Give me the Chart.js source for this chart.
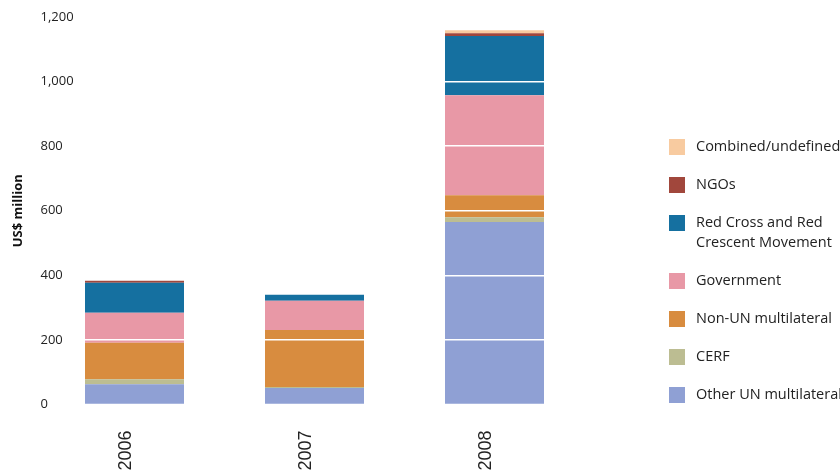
<!DOCTYPE html>
<html>
<head>
<meta charset="utf-8">
<script src="https://cdn.jsdelivr.net/npm/chart.js@4"></script>
<style>
  html, body { margin: 0; padding: 0; background: #fff; }
</style>
</head>
<body>
<canvas id="myChart" width="840" height="470"></canvas>
<script>
// data for chart
const years = ['2006', '2007', '2008'];
const seriesNames = [
    'Other UN multilateral',
    'CERF',
    'Non-UN multilateral',
    'Government',
    'Red Cross and Red\nCrescent Movement',
    'NGOs',
    'Combined/undefined'
];
const otherUN = [63, 51, 565];
const cerf = [15, 3, 15];
const nonUN = [113, 177, 68];
const government = [93, 90, 310];
const redCross = [93, 19, 183];
const ngos = [6, 0, 9];
const combined = [0, 0, 9];
const yTicks = [0, 200, 400, 600, 800, 1000, 1200];

const seriesValues = [otherUN, cerf, nonUN, government, redCross, ngos, combined];
const seriesColors = ['#8fa0d4', '#bcbd92', '#d88c3f', '#e898a6', '#1570a0', '#a1473c', '#f8cba0'];

// legend on the right, top of the stack first
const sideLegend = {
    id: 'sideLegend',
    afterDraw(chart) {
        const ctx = chart.ctx;
        let y = 147;
        ctx.save();
        ctx.font = '14.5px "Open Sans"';
        ctx.textBaseline = 'middle';
        for (let i = chart.data.datasets.length - 1; i >= 0; i--) {
            const ds = chart.data.datasets[i];
            const lines = ds.label.split('\n');
            ctx.fillStyle = ds.backgroundColor;
            ctx.fillRect(669, y - 8, 16, 16);
            ctx.fillStyle = '#222';
            lines.forEach(function(t, k) {
                ctx.fillText(t, 696, y + k * 20);
            });
            y += 38 + (lines.length - 1) * 20;
        }
        ctx.restore();
    }
};

const data = {
    labels: years,
    datasets: seriesValues.map(function(vals, i) {
        return {
            label: seriesNames[i],
            data: vals,
            backgroundColor: seriesColors[i],
            borderWidth: 0
        };
    })
};

const config = {
    type: 'bar',
    data: data,
    options: {
        responsive: false,
        animation: false,
        categoryPercentage: 1,
        barPercentage: 0.55,
        layout: {
            padding: { top: 17, right: 255.5, left: 0, bottom: 0 }
        },
        plugins: {
            legend: { display: false },
            tooltip: { enabled: false }
        },
        scales: {
            x: {
                stacked: true,
                afterFit: function(scale) { scale.height = 65.5; },
                grid: { display: false },
                border: { display: false },
                ticks: {
                    minRotation: 90,
                    maxRotation: 90,
                    padding: 18,
                    labelOffset: -8,
                    color: '#222',
                    font: { family: '"Liberation Sans"', size: 18 }
                }
            },
            y: {
                stacked: true,
                min: 0,
                max: 1200,
                afterFit: function(scale) { scale.width = 44.5; },
                afterBuildTicks: function(scale) {
                    scale.ticks = yTicks.map(function(v) { return { value: v }; });
                },
                grid: {
                    color: '#ffffff',
                    lineWidth: 1.5,
                    drawTicks: false,
                    z: 1
                },
                border: { display: false },
                title: {
                    display: true,
                    text: 'US$ million',
                    color: '#111',
                    padding: { top: 10, bottom: 0 },
                    font: { family: '"Open Sans"', size: 13, weight: 'bold' }
                },
                ticks: {
                    mirror: true,
                    padding: -4,
                    z: 2,
                    color: '#222',
                    font: { family: '"Open Sans"', size: 13 },
                    callback: function(v) { return v.toLocaleString('en-US'); }
                }
            }
        }
    },
    plugins: [sideLegend]
};

const myChart = new Chart(
    document.getElementById('myChart'),
    config
);
</script>
</body>
</html>
